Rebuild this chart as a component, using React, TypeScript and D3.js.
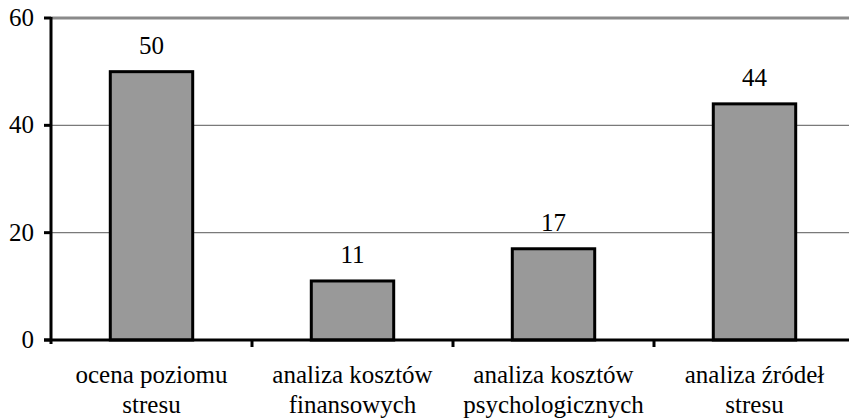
import React, { useEffect, useRef } from "react";
import * as d3 from "d3";

const categories: string[][] = [
  ["ocena poziomu", "stresu"],
  ["analiza kosztów", "finansowych"],
  ["analiza kosztów", "psychologicznych"],
  ["analiza źródeł", "stresu"],
];
const values: number[] = [50, 11, 17, 44];
const yTicks: number[] = [0, 20, 40, 60];

const W = 849;
const H = 419;
const left = 51;
const right = 855;
const top = 18;
const bottom = 340;
const FONT = '"Liberation Serif", Tinos, "Times New Roman", Times, serif';

export default function App() {
  const ref = useRef<SVGSVGElement | null>(null);

  useEffect(() => {
    const svg = d3.select(ref.current);
    svg.selectAll("*").remove();

    const idx = d3.range(categories.length);
    const band = d3.scaleBand<number>().domain(idx).range([left, right]);
    const x = d3
      .scaleBand<number>()
      .domain(idx)
      .range([left, right])
      .paddingInner(0.59)
      .paddingOuter(0.295);
    const y = d3.scaleLinear().domain([0, 60]).range([bottom, top]);

    svg.append("rect").attr("width", W).attr("height", H).attr("fill", "#fff");

    // horizontal gridlines
    svg
      .selectAll("line.grid")
      .data(yTicks.slice(1))
      .join("line")
      .attr("x1", left)
      .attr("x2", W)
      .attr("y1", (d) => y(d))
      .attr("y2", (d) => y(d))
      .attr("stroke", (d) => (d === 60 ? "#8a8a8a" : "#7a7a7a"))
      .attr("stroke-width", (d) => (d === 60 ? 3 : 1.2));

    // bars
    svg
      .selectAll("rect.bar")
      .data(values)
      .join("rect")
      .attr("x", (_, i) => x(i) as number)
      .attr("y", (d) => y(d))
      .attr("width", x.bandwidth())
      .attr("height", (d) => y(0) - y(d))
      .attr("fill", "#999999")
      .attr("stroke", "#000")
      .attr("stroke-width", 3);

    const addText = (sel: d3.Selection<SVGTextElement, any, any, any>) =>
      sel
        .attr("font-family", FONT)
        .style("font-family", FONT)
        .attr("font-size", 25)
        .attr("fill", "#000");

    // value labels
    addText(
      svg
        .selectAll("text.val")
        .data(values)
        .join("text")
        .attr("x", (_, i) => (x(i) as number) + x.bandwidth() / 2)
        .attr("y", (d) => y(d) - 18)
        .attr("text-anchor", "middle")
        .text((d) => d)
    );

    // y axis
    svg
      .append("line")
      .attr("x1", left)
      .attr("x2", left)
      .attr("y1", top - 1)
      .attr("y2", bottom + 4)
      .attr("stroke", "#000")
      .attr("stroke-width", 3);
    svg
      .selectAll("line.ytick")
      .data(yTicks)
      .join("line")
      .attr("x1", left - 7)
      .attr("x2", left)
      .attr("y1", (d) => y(d))
      .attr("y2", (d) => y(d))
      .attr("stroke", "#000")
      .attr("stroke-width", 3);
    addText(
      svg
        .selectAll("text.ylab")
        .data(yTicks)
        .join("text")
        .attr("x", 34)
        .attr("y", (d) => y(d) + 8)
        .attr("text-anchor", "end")
        .text((d) => d)
    );

    // x axis
    svg
      .append("line")
      .attr("x1", left - 7)
      .attr("x2", W)
      .attr("y1", bottom)
      .attr("y2", bottom)
      .attr("stroke", "#000")
      .attr("stroke-width", 3);
    svg
      .selectAll("line.xtick")
      .data(idx.slice(1))
      .join("line")
      .attr("x1", (d) => band(d) as number)
      .attr("x2", (d) => band(d) as number)
      .attr("y1", bottom)
      .attr("y2", bottom + 7)
      .attr("stroke", "#000")
      .attr("stroke-width", 3);

    const labelRows = categories.flatMap((lines, i) => lines.map((l, j) => ({ l, i, j })));
    addText(
      svg
        .selectAll("text.cat")
        .data(labelRows)
        .join("text")
        .attr("x", (d) => (band(d.i) as number) + band.bandwidth() / 2)
        .attr("y", (d) => 383 + d.j * 30)
        .attr("text-anchor", "middle")
        .text((d) => d.l)
    );
  }, []);

  return (
    <svg
      ref={ref}
      width={W}
      height={H}
      style={{ position: "absolute", left: 0, top: 0 }}
    />
  );
}
